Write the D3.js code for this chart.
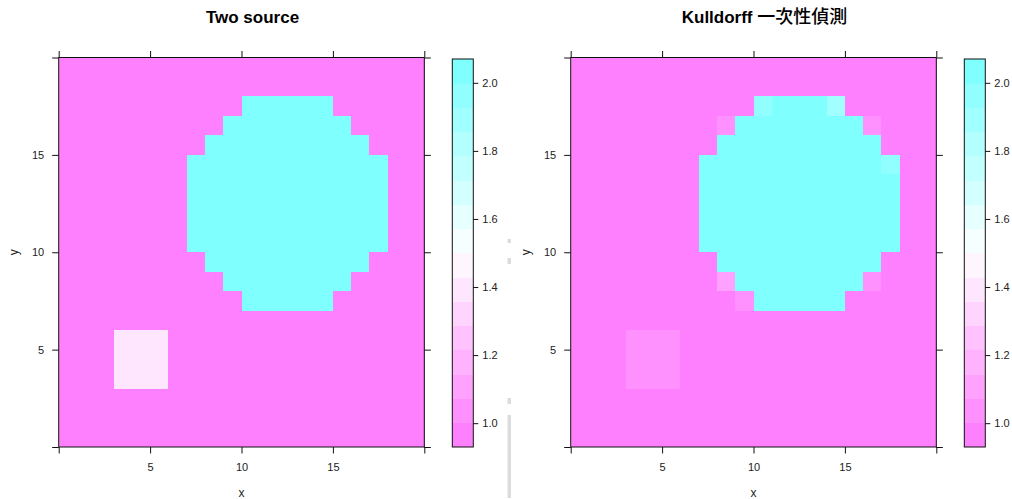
<!DOCTYPE html>
<html>
<head>
<meta charset="utf-8">
<script src="https://cdn.jsdelivr.net/npm/d3@7"></script>
<style>
  body { margin: 0; background: #fff; }
  svg { display: block; }
  text { font-family: "Liberation Sans", Arial, sans-serif; }
</style>
</head>
<body>
<svg id="chart" width="1012" height="499"></svg>
<script>
// ---- data ---------------------------------------------------------------
// Each grid is 20 x 20 cells; rows listed from y = 19 (top) down to y = 0,
// characters give x = 0 .. 19. Symbols map to the level values below.
const valueKey = { ".": 1.0, "C": 2.0, "p": 1.4, "q": 1.05, "r": 1.12, "a": 1.88, "b": 1.95 };

const twoSourceRows = [
  "....................",
  "....................",
  "..........CCCCC.....",
  ".........CCCCCCC....",
  "........CCCCCCCCC...",
  ".......CCCCCCCCCCC..",
  ".......CCCCCCCCCCC..",
  ".......CCCCCCCCCCC..",
  ".......CCCCCCCCCCC..",
  ".......CCCCCCCCCCC..",
  "........CCCCCCCCC...",
  ".........CCCCCCC....",
  "..........CCCCC.....",
  "....................",
  "...ppp..............",
  "...ppp..............",
  "...ppp..............",
  "....................",
  "....................",
  "...................."
];

const kulldorffRows = [
  "....................",
  "....................",
  "..........bCCCa.....",
  "........qCCCCCCCq...",
  "........CCCCCCCCC...",
  ".......CCCCCCCCCCb..",
  ".......CCCCCCCCCCC..",
  ".......CCCCCCCCCCC..",
  ".......CCCCCCCCCCC..",
  ".......CCCCCCCCCCC..",
  "........CCCCCCCCC...",
  "........rCCCCCCCq...",
  ".........qCCCCC.....",
  "....................",
  "...qqq..............",
  "...qqq..............",
  "...qqq..............",
  "....................",
  "....................",
  "...................."
];

const panelTitles = [
  [{ t: "Two source", bold: true }],
  [{ t: "Kulldorff ", bold: true }, { t: "一次性偵測", bold: false }]
];
const axisTicks = [0, 5, 10, 15, 20];
const axisLabelled = [5, 10, 15];
const keyTicks = [1.0, 1.2, 1.4, 1.6, 1.8, 2.0];
const zLimits = [0.93, 2.07];
const nLevels = 16;

// ---- colours: reversed cm.colors(100), sampled at 16 levels -----------
function cmColorsRev(n) {
  const k = n / 2, out = [];
  for (let i = 0; i < k; i++) {            // magenta, saturation 0.5 -> 0.01
    const s = 0.5 - i * (0.49 / (k - 1));
    const g = Math.round(255 * (1 - s));
    out.push(d3.rgb(255, g, 255).formatHex());
  }
  for (let i = 0; i < k; i++) {            // cyan, saturation 0.01 -> 0.5
    const s = 0.01 + i * (0.49 / (k - 1));
    const r = Math.round(255 * (1 - s));
    out.push(d3.rgb(r, 255, 255).formatHex());
  }
  return out;
}
const regionCols = cmColorsRev(100);
const levelCols = d3.range(nLevels).map(k => regionCols[Math.round(k * 99 / (nLevels - 1))]);
const breaks = d3.range(nLevels + 1).map(k => zLimits[0] + k * (zLimits[1] - zLimits[0]) / nLevels);
const colour = d3.scaleThreshold().domain(breaks.slice(1, -1)).range(levelCols);

// ---- layout ---------------------------------------------------------------
const svg = d3.select("#chart");
const plotW = 365.6, plotTop = 57.5, plotBottom = 447;
const panelLeft = [58.7, 570.7];

function toCells(rows) {
  const cells = [];
  rows.forEach((row, r) => {
    const y = rows.length - 1 - r;
    [...row].forEach((ch, x) => cells.push({ x, y, v: valueKey[ch] }));
  });
  return cells;
}

function drawPanel(rows, titleParts, left) {
  const xs = d3.scaleLinear().domain([0, 20]).range([left, left + plotW]);
  const ys = d3.scaleLinear().domain([0, 20]).range([plotBottom, plotTop]);
  const g = svg.append("g");

  // title, centred over the panel and its colour key
  const title = g.append("text")
    .attr("x", left + plotW / 2 + 11).attr("y", 23)
    .attr("text-anchor", "middle").attr("fill", "#000");
  titleParts.forEach(p => {
    const ts = title.append("tspan").text(p.t);
    if (p.bold) {
      ts.attr("font-weight", "bold").attr("font-size", 17);
    } else {
      ts.attr("font-family", "'Noto Sans CJK TC', 'Noto Sans CJK SC', sans-serif")
        .attr("font-size", 18).attr("font-weight", 500);
    }
  });

  // cells
  g.append("g").attr("shape-rendering", "crispEdges")
    .selectAll("rect").data(toCells(rows)).join("rect")
    .attr("x", d => xs(d.x)).attr("y", d => ys(d.y + 1))
    .attr("width", d => xs(d.x + 1) - xs(d.x) + 0.3)
    .attr("height", d => ys(d.y) - ys(d.y + 1) + 0.3)
    .attr("fill", d => colour(d.v));

  // border
  g.append("rect")
    .attr("x", xs(0)).attr("y", ys(20))
    .attr("width", xs(20) - xs(0)).attr("height", ys(0) - ys(20))
    .attr("fill", "none").attr("stroke", "#111").attr("stroke-width", 1);

  const fmt = d => axisLabelled.includes(d) ? d : "";
  const styleAxis = a => {
    a.select(".domain").remove();
    a.selectAll("line").attr("stroke", "#111");
    a.selectAll("text").attr("font-size", 11).attr("fill", "#222")
      .attr("font-family", "'Liberation Sans', Arial, sans-serif");
  };
  g.append("g").attr("transform", `translate(0,${plotBottom})`)
    .call(d3.axisBottom(xs).tickValues(axisTicks).tickFormat(fmt).tickSize(6.5).tickPadding(9.5))
    .call(styleAxis);
  g.append("g").attr("transform", `translate(0,${plotTop})`)
    .call(d3.axisTop(xs).tickValues(axisTicks).tickFormat("").tickSize(6.5))
    .call(styleAxis);
  g.append("g").attr("transform", `translate(${left},0)`)
    .call(d3.axisLeft(ys).tickValues(axisTicks).tickFormat(fmt).tickSize(6.5).tickPadding(8))
    .call(styleAxis);
  g.append("g").attr("transform", `translate(${left + plotW},0)`)
    .call(d3.axisRight(ys).tickValues(axisTicks).tickFormat("").tickSize(6.5))
    .call(styleAxis);

  // axis titles
  g.append("text").attr("x", left + plotW / 2).attr("y", 496.5)
    .attr("text-anchor", "middle").attr("font-size", 12).attr("fill", "#222").text("x");
  g.append("text").attr("transform", `translate(${left - 41},${(plotTop + plotBottom) / 2}) rotate(-90)`)
    .attr("text-anchor", "middle").attr("font-size", 12).attr("fill", "#222").text("y");

  // colour key
  const kx = left + plotW + 28, kw = 21;
  const ks = d3.scaleLinear().domain(zLimits).range([plotBottom, plotTop + 1.5]);
  const key = g.append("g");
  key.append("g").attr("shape-rendering", "crispEdges")
    .selectAll("rect").data(d3.range(nLevels)).join("rect")
    .attr("x", kx).attr("width", kw)
    .attr("y", k => ks(breaks[k + 1]))
    .attr("height", k => ks(breaks[k]) - ks(breaks[k + 1]) + 0.4)
    .attr("fill", k => levelCols[k]);
  key.append("rect").attr("x", kx).attr("y", ks(zLimits[1]))
    .attr("width", kw).attr("height", ks(zLimits[0]) - ks(zLimits[1]))
    .attr("fill", "none").attr("stroke", "#111");
  key.append("g").attr("transform", `translate(${kx + kw},0)`)
    .call(d3.axisRight(ks).tickValues(keyTicks).tickFormat(d3.format(".1f")).tickSize(5).tickPadding(4))
    .call(styleAxis);
}

drawPanel(twoSourceRows, panelTitles[0], panelLeft[0]);
drawPanel(kulldorffRows, panelTitles[1], panelLeft[1]);

// light grey strip between the two panels
const strip = [[239, 243], [258, 264], [398, 404], [415, 498]];
svg.append("g").selectAll("rect").data(strip).join("rect")
  .attr("x", 507.5).attr("width", 3.5)
  .attr("y", d => d[0]).attr("height", d => d[1] - d[0])
  .attr("fill", "#dcdcdc");
</script>
</body>
</html>
